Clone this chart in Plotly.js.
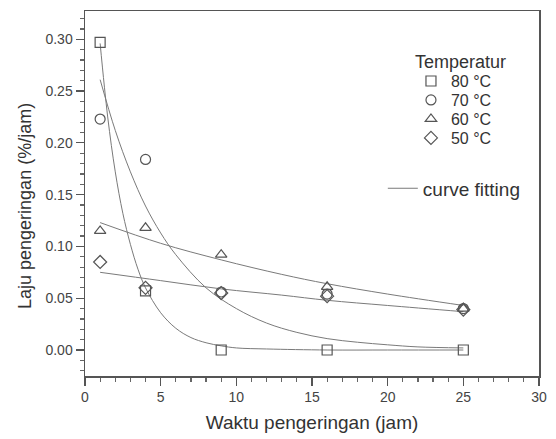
<!DOCTYPE html>
<html>
<head>
<meta charset="utf-8">
<script src="https://cdn.plot.ly/plotly-3.0.1.min.js"></script>
<style>html,body{margin:0;padding:0;background:#fff}#chart{width:556px;height:439px}</style>
</head>
<body>
<div id="chart"></div>
<script>
// Measured points (drying time in hours vs drying rate %/jam)
var timeX = [1, 4, 9, 16, 25];
var rate80 = [0.297, 0.057, 0.000, 0.000, 0.000];
var rate70 = [0.223, 0.184, 0.056, 0.054, 0.040];
var rate60 = [0.115, 0.118, 0.092, 0.061, 0.040];
var rate50 = [0.085, 0.060, 0.055, 0.052, 0.039];
var seriesNames = ["80 °C", "70 °C", "60 °C", "50 °C"];
var legendTitle = "Temperatur";

// Fitted curves
var fit80X = [1, 1.5, 2, 2.5, 3, 3.5, 4, 5, 6, 7, 8, 9, 10, 12, 16, 20, 25];
var fit80Y = [0.296, 0.225, 0.172, 0.132, 0.102, 0.078, 0.060, 0.036, 0.021, 0.012, 0.007, 0.004, 0.002, 0.001, 0.000, 0.000, 0.000];
var fit70X = [1, 2, 3, 4, 5, 6, 8, 10, 12, 14, 16, 18, 20, 22, 25];
var fit70Y = [0.261, 0.212, 0.172, 0.139, 0.113, 0.092, 0.060, 0.040, 0.026, 0.017, 0.011, 0.0075, 0.005, 0.003, 0.002];
var fit60X = [1, 5, 9, 13, 16, 20, 25];
var fit60Y = [0.123, 0.103, 0.087, 0.073, 0.064, 0.054, 0.043];
var fit50X = [1, 5, 9, 13, 16, 20, 25];
var fit50Y = [0.075, 0.067, 0.059, 0.053, 0.048, 0.043, 0.037];

var markColor = "#555555";
var lineColor = "#7a7a7a";
var FONT = "Liberation Sans, Arial, sans-serif";

function pts(y, name, sym, leg) {
  return {x: timeX, y: y, name: name, type: "scatter", mode: "markers",
    marker: {symbol: sym, size: 10, color: markColor, line: {color: markColor, width: 1.2}},
    legend: leg, cliponaxis: false};
}
function fit(x, y, show) {
  return {x: x, y: y, name: "curve fitting", type: "scatter", mode: "lines",
    line: {color: lineColor, width: 1, shape: "spline", smoothing: 1},
    showlegend: show, legend: "legend2", hoverinfo: "skip"};
}

var data = [
  fit(fit80X, fit80Y, true), fit(fit70X, fit70Y, false),
  fit(fit60X, fit60Y, false), fit(fit50X, fit50Y, false),
  pts(rate80, seriesNames[0], "square-open", "legend"),
  pts(rate70, seriesNames[1], "circle-open", "legend3"),
  pts(rate60, seriesNames[2], "triangle-up-open", "legend4"),
  pts(rate50, seriesNames[3], "diamond-open", "legend5")
];

function leg(yc) {
  return {x: 0.718, y: yc, xanchor: "left", yanchor: "middle",
    bgcolor: "rgba(0,0,0,0)", font: {size: 16, color: "#333"}, itemsizing: "trace"};
}

var layout = {
  width: 556, height: 439,
  margin: {l: 85, r: 17, t: 11, b: 63},
  paper_bgcolor: "#fff", plot_bgcolor: "#fff",
  font: {family: FONT, color: "#333", size: 14},
  showlegend: true,
  xaxis: {
    range: [0, 30], tickvals: [0, 5, 10, 15, 20, 25, 30],
    ticks: "outside", ticklen: 8, tickwidth: 1.2, tickcolor: "#555",
    minor: {dtick: 1, ticks: "outside", ticklen: 4, tickcolor: "#666"},
    showline: true, linecolor: "#555", linewidth: 1.5, mirror: true,
    showgrid: false, zeroline: false,
    tickfont: {size: 14, color: "#444"},
    title: {text: "Waktu pengeringan (jam)", font: {size: 19, color: "#333"}, standoff: 11}
  },
  yaxis: {
    range: [-0.0251, 0.3273], tickvals: [0, 0.05, 0.10, 0.15, 0.20, 0.25, 0.30],
    tickformat: ".2f",
    ticks: "outside", ticklen: 8, tickwidth: 1.2, tickcolor: "#555",
    minor: {dtick: 0.01, tick0: 0, ticks: "outside", ticklen: 4, tickcolor: "#666"},
    showline: true, linecolor: "#555", linewidth: 1.5, mirror: true,
    showgrid: false, zeroline: false,
    tickfont: {size: 14, color: "#444"}
  },
  annotations: [{
    text: "Laju pengeringan (%/jam)", textangle: -90,
    xref: "paper", yref: "paper", x: -0.132, y: 0.466,
    xanchor: "center", yanchor: "middle", showarrow: false,
    font: {size: 18, color: "#333"}
  }, {
    text: legendTitle, xref: "paper", yref: "paper", x: 0.7225, y: 0.860,
    xanchor: "left", yanchor: "middle", showarrow: false,
    font: {size: 18, color: "#333"}
  }],
  legend: leg(0.808),
  legend3: leg(0.756),
  legend4: leg(0.704),
  legend5: leg(0.652),
  legend2: {
    x: 0.656, y: 0.566, xanchor: "left", yanchor: "top",
    bgcolor: "rgba(0,0,0,0)", font: {size: 19, color: "#333"}
  }
};

Plotly.newPlot("chart", data, layout, {displayModeBar: false, staticPlot: true});
</script>
</body>
</html>
